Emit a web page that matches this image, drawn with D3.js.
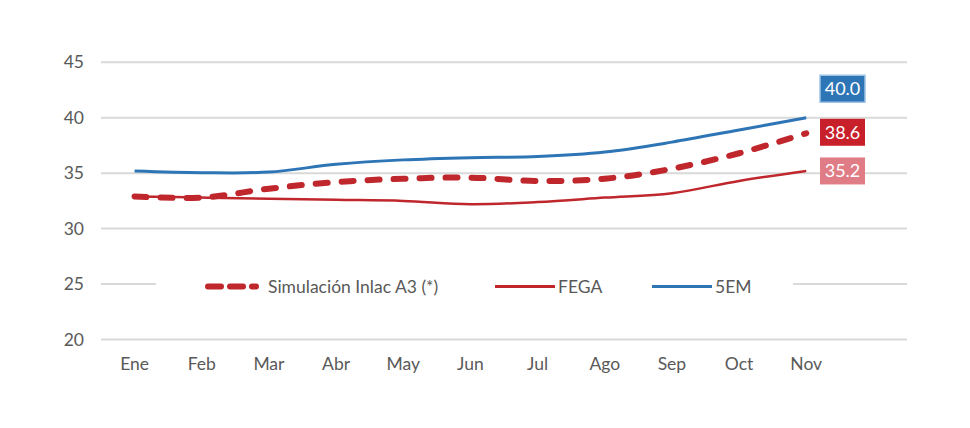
<!DOCTYPE html>
<html>
<head>
<meta charset="utf-8">
<script src="https://cdn.jsdelivr.net/npm/d3@7"></script>
<style>
  body { margin: 0; background: #fff; }
  text { font-family: Lato, "Open Sans", sans-serif; }
</style>
</head>
<body>
<div id="chart"></div>
<script>
var months = ["Ene", "Feb", "Mar", "Abr", "May", "Jun", "Jul", "Ago", "Sep", "Oct", "Nov"]
var yTicks = [20, 25, 30, 35, 40, 45]
var simulacion = [32.9, 32.8, 33.6, 34.2, 34.5, 34.6, 34.3, 34.5, 35.4, 36.8, 38.6]
var fega = [32.9, 32.8, 32.7, 32.6, 32.5, 32.2, 32.4, 32.8, 33.2, 34.3, 35.2]
var cincoEM = [35.2, 35.05, 35.1, 35.8, 36.2, 36.4, 36.5, 36.9, 37.8, 38.9, 40.0]
var seriesNames = ["Simulación Inlac A3 (*)", "FEGA", "5EM"]

var width = 970,
    height = 428

var red = "#C0272D", blue = "#2E75B6", pink = "#E07C86"

var svg = d3.select("#chart")
  .append("svg")
    .attr("width", width)
    .attr("height", height)

// 12 slots in the plot area, last one empty (like the excel chart)
var step = (907 - 101) / 12
var x = d3.scalePoint()
  .domain(months)
  .range([101 + step / 2, 101 + step * 10.5])
var y = d3.scaleLinear()
  .domain([20, 45])
  .range([339.5, 62.3])

// gridlines
svg.append("g")
  .selectAll("line")
  .data(yTicks)
  .enter().append("line")
    .attr("x1", 101).attr("x2", 907)
    .attr("y1", d => y(d)).attr("y2", d => y(d))
    .attr("stroke", "#d9d9d9")
    .attr("stroke-width", 2)

// y axis labels
svg.append("g")
  .selectAll("text")
  .data(yTicks)
  .enter().append("text")
    .attr("x", 84)
    .attr("y", d => y(d) + 6)
    .attr("text-anchor", "end")
    .style("font-size", "17.5px")
    .attr("fill", "#595959")
    .text(d => d)

// x axis labels
svg.append("g")
  .selectAll("text")
  .data(months)
  .enter().append("text")
    .attr("x", d => x(d))
    .attr("y", 370)
    .attr("text-anchor", "middle")
    .style("font-size", "17.5px")
    .attr("fill", "#595959")
    .text(d => d)

// legend box hides part of the 25 gridline
var lg = svg.append("g")
lg.append("rect")
  .attr("x", 156).attr("y", 272).attr("width", 637).attr("height", 28)
  .attr("fill", "#fff")

var legendItems = [
  {name: seriesNames[0], x: 205, color: red, dash: true},
  {name: seriesNames[1], x: 495, color: red, dash: false},
  {name: seriesNames[2], x: 652, color: blue, dash: false}
]
legendItems.forEach(function(d) {
  var ly = 286.5
  if (d.dash) {
    lg.append("line")
      .attr("x1", d.x + 3).attr("x2", d.x + 51)
      .attr("y1", ly).attr("y2", ly)
      .attr("stroke", d.color)
      .attr("stroke-width", 6)
      .attr("stroke-linecap", "round")
      .attr("stroke-dasharray", "13,9")
  } else {
    lg.append("line")
      .attr("x1", d.x).attr("x2", d.x + 60)
      .attr("y1", ly).attr("y2", ly)
      .attr("stroke", d.color)
      .attr("stroke-width", 3)
  }
  lg.append("text")
    .attr("x", d.x + 63)
    .attr("y", ly + 6)
    .style("font-size", "17.5px")
    .attr("fill", "#595959")
    .text(d.name)
})

var line = d3.line()
  .x((d, i) => x(months[i]))
  .y(d => y(d))
  .curve(d3.curveCatmullRom.alpha(0.5))

svg.append("path")
  .datum(fega)
  .attr("d", line)
  .attr("fill", "none")
  .attr("stroke", red)
  .attr("stroke-width", 2.5)

svg.append("path")
  .datum(cincoEM)
  .attr("d", line)
  .attr("fill", "none")
  .attr("stroke", blue)
  .attr("stroke-width", 3)

svg.append("path")
  .datum(simulacion)
  .attr("d", line)
  .attr("fill", "none")
  .attr("stroke", red)
  .attr("stroke-width", 6)
  .attr("stroke-linecap", "round")
  .attr("stroke-dasharray", "12,14")

// value labels on the last point
var last = months.length - 1
var labels = [
  {v: cincoEM[last], fill: blue, stroke: "#9dc3e6", dy: -29},
  {v: simulacion[last], fill: "#C8202B", stroke: "none", dy: -1},
  {v: fega[last], fill: pink, stroke: "none", dy: 0}
]
labels.forEach(function(d) {
  var cy = y(d.v) + d.dy
  svg.append("rect")
    .attr("x", 820).attr("y", cy - 13.5)
    .attr("width", 45).attr("height", 27)
    .attr("fill", d.fill)
    .attr("stroke", d.stroke)
    .attr("stroke-width", 1.5)
  svg.append("text")
    .attr("x", 842.5)
    .attr("y", cy + 6.5)
    .attr("text-anchor", "middle")
    .style("font-size", "18px")
    .attr("fill", "#fff")
    .text(d.v.toFixed(1))
})
</script>
</body>
</html>
